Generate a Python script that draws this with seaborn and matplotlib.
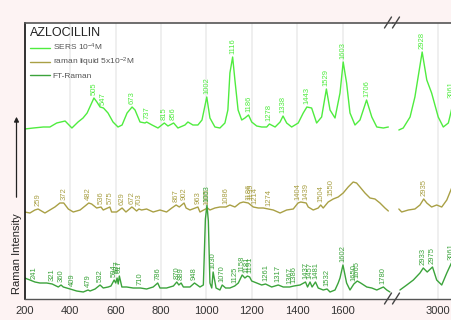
import numpy as np
import pandas as pd
import seaborn as sns
import matplotlib

matplotlib.use("Agg")
import matplotlib.pyplot as plt
from matplotlib.lines import Line2D

# Spectra (wavenumber in cm-1, intensity in arbitrary offset units)
sers_x = [200, 238, 282, 311, 341, 378, 408, 435, 457, 475, 505, 518, 532, 547, 567, 589, 611, 629,
          651, 673, 686, 708, 730, 737, 761, 787, 815, 831, 856, 875, 906, 919, 941, 963, 981, 1002,
          1016, 1038, 1060, 1082, 1095, 1104, 1116, 1126, 1140, 1156, 1170, 1186, 1200, 1222, 1244,
          1266, 1278, 1303, 1325, 1338, 1354, 1376, 1405, 1427, 1443, 1464, 1486, 1508, 1529, 1545,
          1567, 1589, 1603, 1618, 1633, 1655, 1677, 1706, 1729, 1751, 1780, 1802,
          2822, 2842, 2873, 2895, 2928, 2949, 2971, 3001, 3024, 3047, 3058, 3070, 3085, 3110]
sers_y = [170, 171, 172, 172, 176, 178, 171, 177, 181, 186, 201, 197, 192, 191, 186, 177, 172, 174,
          186, 192, 189, 177, 176, 177, 174, 171, 176, 173, 176, 171, 174, 177, 174, 174, 179, 202,
          181, 172, 171, 176, 189, 226, 242, 219, 189, 179, 181, 184, 177, 173, 172,
          172, 175, 172, 177, 183, 176, 172, 176, 186, 192, 191, 176, 182, 210, 189,
          181, 206, 237, 216, 186, 174, 179, 199, 182, 172, 171, 172,
          169, 171, 182, 202, 247, 219, 206, 182, 172, 176, 186, 198, 185, 172]

liquid_x = [200, 223, 245, 259, 289, 311, 333, 355, 372, 392, 414, 444, 466, 482, 495, 517, 536, 546,
            575, 583, 605, 629, 646, 672, 678, 693, 703, 715, 737, 766, 796, 825, 848, 867, 881, 902,
            911, 928, 963, 972, 1005, 1016, 1038, 1060, 1086, 1104, 1126, 1148, 1163, 1185, 1207,
            1229, 1251, 1273, 1295, 1325, 1354, 1383, 1404, 1416, 1440, 1449, 1471, 1493, 1504, 1515,
            1537, 1559, 1581, 1603, 1625, 1647, 1662, 1677, 1699, 1721, 1743, 1765, 1787, 1802,
            2822, 2835, 2865, 2895, 2918, 2935, 2949, 2971, 2994, 3017, 3040, 3064, 3090, 3110]
liquid_y = [87, 86, 89, 90, 86, 89, 92, 96, 96, 90, 87, 89, 93, 96, 95, 91, 92, 89,
            92, 87, 87, 91, 87, 92, 91, 88, 90, 89, 90, 87, 89, 87, 91, 94, 92, 96,
            91, 89, 92, 87, 91, 89, 91, 92, 92, 94, 92, 96, 97, 96, 92,
            91, 91, 90, 89, 86, 89, 90, 96, 97, 96, 92, 89, 91, 94, 91,
            97, 100, 102, 106, 112, 117, 116, 112, 106, 101, 100, 96, 91, 88,
            90, 87, 89, 90, 94, 100, 96, 92, 94, 92, 99, 112, 118, 112]

ft_x = [200, 223, 245, 267, 297, 321, 348, 360, 370, 400, 429, 458, 479, 488, 510, 532, 546, 568,
        580, 594, 601, 607, 612, 617, 628, 649, 678, 710, 737, 766, 786, 796, 825, 855, 870, 879,
        889, 899, 928, 948, 972, 987, 996, 1003, 1009, 1016, 1024, 1030, 1043, 1060, 1070, 1085,
        1104, 1125, 1141, 1158, 1170, 1181, 1191, 1200, 1222, 1244, 1261, 1288, 1317, 1339, 1367,
        1386, 1413, 1437, 1446, 1457, 1466, 1481, 1493, 1515, 1532, 1545, 1567, 1581, 1589, 1602,
        1618, 1633, 1650, 1665, 1680, 1707, 1729, 1751, 1780, 1795, 1809,
        2827, 2858, 2888, 2918, 2933, 2951, 2975, 2994, 3017, 3040, 3061, 3080, 3110]
ft_y = [21, 19, 17, 16, 16, 15, 12, 14, 12, 10, 8, 7, 9, 8, 10, 14, 11, 12,
        13, 19, 16, 21, 15, 23, 12, 12, 11, 11, 10, 12, 16, 11, 11, 13, 17, 14,
        16, 12, 12, 16, 12, 14, 80, 94, 78, 16, 11, 27, 11, 9, 14, 11,
        11, 13, 16, 24, 21, 23, 22, 18, 16, 14, 15, 12, 14, 12, 12,
        13, 14, 17, 12, 17, 12, 17, 11, 9, 10, 7, 9, 16, 21, 34,
        16, 9, 15, 18, 16, 12, 11, 9, 12, 9, 7,
        9, 14, 19, 26, 31, 27, 32, 19, 14, 26, 36, 20, 12]

sers_peaks = [505, 547, 673, 737, 815, 856, 1002, 1116, 1186, 1278, 1338, 1443, 1529, 1603, 1706,
              2928, 3061]
liquid_peaks = [259, 372, 482, 536, 575, 629, 672, 703, 867, 902, 963, 1005, 1086, 1186, 1195, 1214,
                1274, 1404, 1439, 1504, 1550, 2935]
ft_peaks = [241, 321, 360, 409, 479, 532, 594, 607, 617, 710, 786, 870, 889, 948, 1003, 1030, 1070,
            1125, 1158, 1181, 1191, 1261, 1317, 1367, 1386, 1437, 1457, 1481, 1532, 1602, 1650, 1665,
            1780, 2933, 2975, 3061]

labels = ["SERS 10$^{-4}$M", "raman liquid 5x10$^{-2}$M", "FT-Raman"]
colors = ["#4fec3f", "#a9a045", "#3ba33b"]

W, H = 452, 320


def fig_xy(px, py):
    return px / W, 1 - py / H


def draw_spectrum(ax_l, ax_r, x, y, color, peaks):
    df = pd.DataFrame({"wavenumber": x, "intensity": y})
    left = df[df["wavenumber"] < 2000]
    right = df[df["wavenumber"] > 2000]
    sns.lineplot(data=left, x="wavenumber", y="intensity", ax=ax_l, color=color, lw=1.0, sort=False)
    sns.lineplot(data=right, x="wavenumber", y="intensity", ax=ax_r, color=color, lw=1.0, sort=False)
    for p in peaks:
        part = left if p < 2000 else right
        near = part[(part["wavenumber"] - p).abs() <= 10]["intensity"]
        top = np.interp(p, part["wavenumber"], part["intensity"])
        if len(near):
            top = max(top, near.max())
        ax = ax_l if p < 2000 else ax_r
        ax.text(p, top + 3, str(p), rotation=90, ha="center", va="bottom",
                fontsize=5.5, color=color)


sns.set_style("white")
plt.rcParams["font.family"] = ["Liberation Sans", "DejaVu Sans"]
plt.rcParams["mathtext.default"] = "regular"

fig = plt.figure(figsize=(W / 100, H / 100), dpi=100, facecolor="#fdf3f3")
ax_l = fig.add_axes([24.7 / W, 21 / H, 368.2 / W, 276.5 / H])
ax_r = fig.add_axes([392.9 / W, 21 / H, 72.6 / W, 276.5 / H])

draw_spectrum(ax_l, ax_r, sers_x, sers_y, colors[0], sers_peaks)
draw_spectrum(ax_l, ax_r, liquid_x, liquid_y, colors[1], liquid_peaks)
draw_spectrum(ax_l, ax_r, ft_x, ft_y, colors[2], ft_peaks)

ax_l.set_xlim(200, 1822)
ax_r.set_xlim(2795, 3125)
ax_l.set_xticks(range(200, 1601, 200))
ax_l.set_xticks(range(300, 1701, 200), minor=True)
ax_r.set_xticks([3000])
ax_r.set_xticks([2900, 3100], minor=True)

for ax in (ax_l, ax_r):
    ax.set_facecolor("white")
    ax.set_ylim(0, 276.5)
    ax.set_yticks([])
    ax.set_xlabel("")
    ax.set_ylabel("")
    ax.grid(axis="x", which="major", color="#ececec", lw=1.2)
    ax.set_axisbelow(True)
    ax.tick_params(axis="x", which="major", direction="out", length=3, width=0.8,
                   color="#444444", labelsize=8, labelcolor="#333333", pad=2)
    ax.tick_params(axis="x", which="minor", direction="out", length=2, width=0.8,
                   color="#444444")
    ax.tick_params(axis="y", left=False, right=False)
    ax.spines["top"].set_color("#555555")
    ax.spines["top"].set_linewidth(1.2)
    ax.spines["bottom"].set_color("#555555")
    ax.spines["bottom"].set_linewidth(1.0)

ax_l.spines["right"].set_visible(False)
ax_l.spines["left"].set_color("#111111")
ax_l.spines["left"].set_linewidth(1.2)
ax_r.spines["left"].set_visible(False)

# axis break marks
for py in (22.5, 298.5):
    for px in (388, 396):
        x0, y0 = fig_xy(px - 3.5, py + 5.5)
        x1, y1 = fig_xy(px + 3.5, py - 5.5)
        fig.add_artist(Line2D([x0, x1], [y0, y1], color="#444444", lw=1.0))

handles = [Line2D([], [], color=c, lw=1.0) for c in colors]
leg = ax_l.legend(handles, labels, title="AZLOCILLIN", loc="upper left",
                  bbox_to_anchor=(0.0144, 0.984), borderaxespad=0, borderpad=0,
                  frameon=False, fontsize=6, title_fontsize=9, handlelength=2.4,
                  handletextpad=0.3, labelspacing=0.35, alignment="left")
for t in leg.get_texts():
    t.set_color("#555555")
leg.get_title().set_color("#222222")

fig.text(*fig_xy(17.5, 254), "Raman Intensity", rotation=90, ha="center", va="center",
         fontsize=8, color="#222222")
ax_l.annotate("", xy=fig_xy(16.5, 114), xytext=fig_xy(16.5, 200),
              xycoords="figure fraction", textcoords="figure fraction",
              arrowprops=dict(arrowstyle="-|>", color="#222222", lw=0.9, mutation_scale=7),
              annotation_clip=False)

fig.savefig("out.png", dpi=100, facecolor=fig.get_facecolor())
